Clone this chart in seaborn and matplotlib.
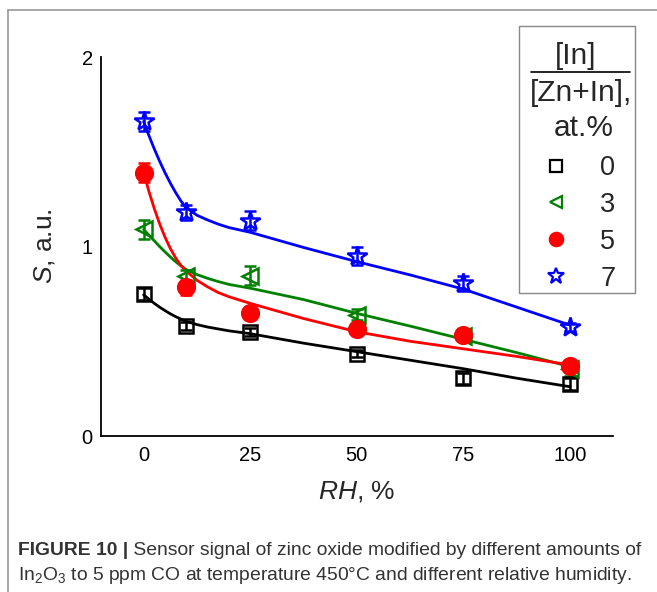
import matplotlib
matplotlib.use("Agg")
import matplotlib.pyplot as plt
from matplotlib.lines import Line2D
from matplotlib.patches import Rectangle
from matplotlib.ticker import MultipleLocator
import seaborn as sns
import pandas as pd

# measured points
rh_points = [0, 10, 25, 50, 75, 100]
s_in0 = [0.75, 0.58, 0.55, 0.435, 0.305, 0.275]
s_in3 = [1.09, 0.845, 0.845, 0.64, 0.53, 0.355]
s_in5 = [1.39, 0.785, 0.65, 0.565, 0.535, 0.37]
s_in7 = [1.66, 1.18, 1.135, 0.95, 0.805, 0.575]
err_in0 = [0.03, 0.02, 0.02, 0.02, 0.03, 0.03]
err_in3 = [0.05, 0.03, 0.05, 0.03, 0.03, 0.04]
err_in5 = [0.05, 0.04, 0.03, 0.03, 0.03, 0.03]
err_in7 = [0.05, 0.04, 0.05, 0.05, 0.04, 0.02]

# fitted curves
rh_fit = [0, 1.25, 2.5, 3.75, 5, 6.25, 7.5, 8.75, 10, 12.5, 15, 17.5, 20, 25,
          37.5, 50, 62.5, 75, 87.5, 100]
fit_in0 = [0.745, 0.722, 0.70, 0.68, 0.662, 0.645, 0.63, 0.617, 0.605, 0.588, 0.575,
           0.565, 0.555, 0.54, 0.49, 0.445, 0.40, 0.355, 0.305, 0.26]
fit_in3 = [1.09, 1.06, 1.03, 1.00, 0.972, 0.945, 0.92, 0.898, 0.878, 0.852, 0.832,
           0.815, 0.80, 0.78, 0.72, 0.647, 0.58, 0.51, 0.44, 0.366]
fit_in5 = [1.39, 1.29, 1.20, 1.12, 1.05, 0.99, 0.94, 0.90, 0.87, 0.822, 0.787,
           0.757, 0.735, 0.70, 0.62, 0.55, 0.50, 0.46, 0.42, 0.375]
fit_in7 = [1.66, 1.585, 1.515, 1.45, 1.39, 1.335, 1.285, 1.24, 1.205, 1.165, 1.14,
           1.118, 1.10, 1.075, 0.995, 0.92, 0.85, 0.775, 0.68, 0.585]

labels = ["0", "3", "5", "7"]
colors = ["black", "green", "red", "blue"]
markers = ["s", "<", "o", "*"]
filled = [False, False, True, False]
sizes = [10, 11, 12, 15]

sns.set_style("white")
plt.rcParams["font.family"] = ["Liberation Sans", "DejaVu Sans"]
plt.rcParams["mathtext.fontset"] = "custom"
plt.rcParams["mathtext.rm"] = "Liberation Sans"
plt.rcParams["mathtext.it"] = "Liberation Sans:italic"
plt.rcParams["mathtext.bf"] = "Liberation Sans:bold"

W, H = 657, 592
fig = plt.figure(figsize=(W / 100, H / 100), dpi=100)
ax = fig.add_axes([0.1537, 0.2635, 0.7789, 0.6402])

fits = [fit_in0, fit_in3, fit_in5, fit_in7]
df_fit = pd.DataFrame({
    "RH": rh_fit * 4,
    "S": sum(fits, []),
    "In": sum([[lab] * len(rh_fit) for lab in labels], []),
})
sns.lineplot(data=df_fit, x="RH", y="S", hue="In", palette=dict(zip(labels, colors)),
             linewidth=2, legend=False, ax=ax, zorder=2)

series = [s_in0, s_in3, s_in5, s_in7]
errs = [err_in0, err_in3, err_in5, err_in7]
handles = []
for s, e, c, m, f, ms, lab in zip(series, errs, colors, markers, filled, sizes, labels):
    ax.errorbar(rh_points, s, yerr=e, fmt=m, color=c, ms=ms, mew=1.8,
                mfc=c if f else "none", mec=c, ecolor=c, elinewidth=1.8,
                capsize=4, capthick=1.8, zorder=3)
    handles.append(Line2D([], [], ls="none", marker=m, color=c, ms=ms * 0.8,
                          mew=1.6, mfc=c if f else "none", mec=c, label=lab))

ax.set_xlim(-10, 110)
ax.set_ylim(0, 2)
ax.set_xticks([0, 25, 50, 75, 100])
ax.xaxis.set_minor_locator(MultipleLocator(12.5))
ax.set_yticks([0, 1, 2])
ax.yaxis.set_minor_locator(MultipleLocator(0.5))
ax.tick_params(which="both", direction="in", width=1.3, labelsize=14.5, colors="black")
ax.tick_params(which="major", length=6, pad=7)
ax.tick_params(which="minor", length=4)
ax.tick_params(axis="y", which="major", pad=6)
for side in ["top", "right"]:
    ax.spines[side].set_visible(False)
for side in ["left", "bottom"]:
    ax.spines[side].set_color("black")
    ax.spines[side].set_linewidth(1.3)

ax.set_xlabel(r"$\mathit{RH}$, %", fontsize=19, labelpad=10)
ax.set_ylabel(r"$\mathit{S}$, a.u.", fontsize=19, labelpad=18)

# legend: entries from the library, box and fraction title drawn around them
leg_fs = 19.5
title_fs = 21.5
ax.legend(handles=handles, loc="lower left",
          bbox_to_anchor=(536 / W, 1 - 291.5 / H), bbox_transform=fig.transFigure,
          borderaxespad=0, borderpad=0, frameon=False, fontsize=leg_fs,
          handletextpad=0.87, labelspacing=0.40, handlelength=1.5)
fig.add_artist(Rectangle((519 / W, 1 - 293 / H), 116 / W, 267 / H, fill=False,
                         edgecolor="#888888", lw=1.0, transform=fig.transFigure))
fig.text(576 / W, 1 - 56 / H, "[In]", fontsize=title_fs, ha="center", va="center")
fig.add_artist(Line2D([531 / W, 630 / W], [1 - 72 / H, 1 - 72 / H], color="black",
                      lw=1.2, transform=fig.transFigure))
fig.text(581 / W, 1 - 93 / H, "[Zn+In],", fontsize=title_fs, ha="center", va="center")
fig.text(584 / W, 1 - 128 / H, "at.%", fontsize=title_fs, ha="center", va="center")

# outer panel border
fig.add_artist(Line2D([8 / W, 8 / W], [0, 1 - 10 / H], color="#999999", lw=1.2,
                      transform=fig.transFigure))
fig.add_artist(Line2D([8 / W, 1], [1 - 10 / H, 1 - 10 / H], color="#999999", lw=1.2,
                      transform=fig.transFigure))

# caption
cap_color = "#333333"
cap_size = 13.9
t1 = fig.text(18 / W, 1 - 559 / H, "FIGURE 10 |", fontsize=cap_size, fontweight="bold",
              color=cap_color, va="bottom", ha="left")
ax.annotate(" Sensor signal of zinc oxide modified by different amounts of",
            xy=(1, 0), xycoords=t1, fontsize=cap_size, color=cap_color,
            va="bottom", ha="left", annotation_clip=False)
fig.text(18 / W, 1 - 586 / H,
         r"In$_2$O$_3$ to 5 ppm CO at temperature 450$\degree$C and different relative humidity.",
         fontsize=cap_size, color=cap_color, va="bottom", ha="left")

fig.savefig("out.png", dpi=100)
